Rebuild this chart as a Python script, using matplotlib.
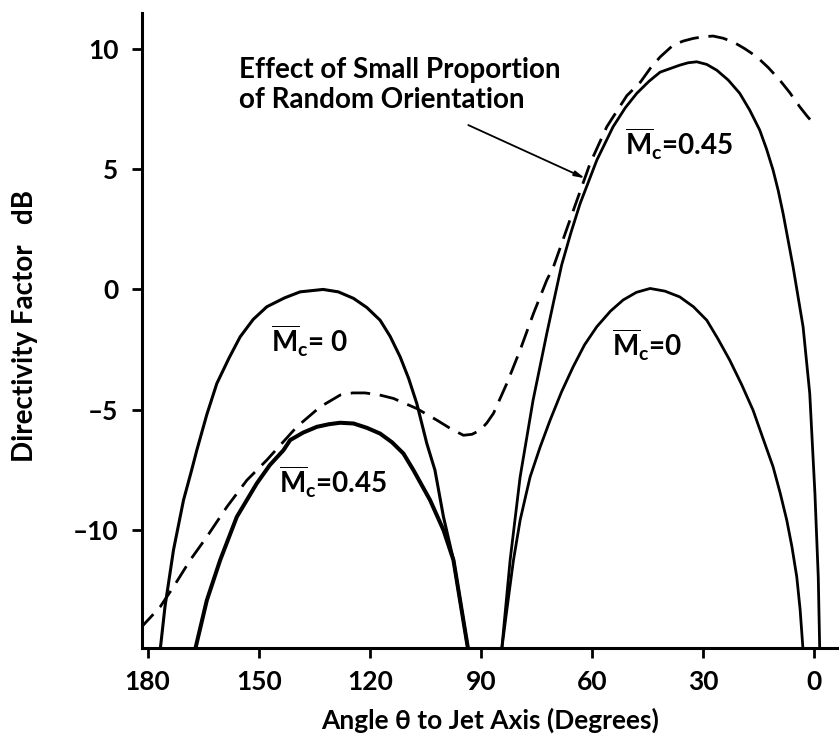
import matplotlib
matplotlib.use("Agg")
import matplotlib.pyplot as plt

plt.rcParams['font.family'] = ['Lato', 'DejaVu Sans']
plt.rcParams['font.weight'] = 'bold'
plt.rcParams['axes.labelweight'] = 'bold'
plt.rcParams['mathtext.fontset'] = 'custom'
plt.rcParams['mathtext.rm'] = 'Lato:bold'
plt.rcParams['mathtext.it'] = 'Lato:bold'

# directivity curves, angle in degrees from jet axis vs dB
# left lobe, Mc = 0
ang_l0 = [176.6, 175.3, 173.0, 170.3, 168.1, 166.7, 164.0, 161.3, 158.0, 155.0, 151.5,
          147.8, 143.0, 138.8, 132.6, 128.5, 124.4, 120.8, 117.2, 114.5, 111.8, 109.5,
          107.3, 104.6, 102.4, 100.1, 97.4, 93.4]
db_l0 = [-15.0, -13.19, -10.83, -8.76, -7.51, -6.68, -5.20, -3.91, -2.85, -1.97, -1.25,
         -0.72, -0.35, -0.10, 0.0, -0.10, -0.37, -0.75, -1.28, -1.95, -2.80, -3.70,
         -4.74, -6.40, -7.51, -9.45, -11.25, -15.0]

# left lobe, Mc = 0.45
ang_l45 = [167.2, 164.0, 160.4, 155.9, 150.5, 147.0, 143.3, 141.5, 138.0, 134.3, 131.0,
           128.0, 124.4, 120.8, 117.2, 114.0, 110.9, 108.2, 103.7, 100.1, 97.4, 93.4]
db_l45 = [-15.0, -12.92, -11.25, -9.45, -8.06, -7.30, -6.68, -6.26, -5.95, -5.71, -5.60,
          -5.54, -5.57, -5.75, -5.99, -6.35, -6.82, -7.51, -8.76, -10.00, -11.25, -15.0]

# right lobe, Mc = 0
ang_r0 = [84.4, 83.0, 81.2, 79.4, 78.0, 76.7, 74.0, 71.3, 68.2, 65.1, 62.0, 58.7, 55.0,
          51.6, 48.0, 44.3, 40.3, 36.3, 32.6, 29.0, 26.0, 22.8, 19.6, 16.5, 13.8, 11.1,
          9.2, 7.4, 6.0, 4.7, 3.8, 3.0]
db_r0 = [-15.0, -13.33, -11.25, -9.59, -8.65, -7.79, -6.55, -5.43, -4.25, -3.22, -2.30,
         -1.55, -0.90, -0.44, -0.12, 0.04, -0.07, -0.31, -0.72, -1.28, -2.05, -2.94,
         -3.95, -5.02, -6.20, -7.37, -8.45, -9.59, -10.70, -11.95, -13.30, -15.0]

# right lobe, Mc = 0.45
ang_r45 = [84.4, 82.1, 79.4, 75.9, 72.2, 70.2, 68.2, 65.7, 63.2, 58.7, 54.3, 51.0, 47.9,
           44.6, 41.6, 36.3, 34.0, 31.7, 29.0, 26.3, 23.2, 20.1, 17.4, 14.7, 12.9, 11.1,
           9.7, 8.4, 5.7, 3.0, 1.2, -0.2, -1.1, -1.5]
db_r45 = [-15.0, -11.25, -7.79, -4.60, -1.83, -0.40, 1.01, 2.35, 3.57, 5.37, 6.76, 7.55,
          8.15, 8.65, 9.03, 9.32, 9.42, 9.46, 9.35, 9.11, 8.70, 8.15, 7.45, 6.62, 5.85,
          4.96, 4.10, 3.16, 0.94, -1.55, -4.32, -8.48, -11.95, -15.0]

# with a small proportion of random orientation
ang_rand = [182.0, 176.6, 173.0, 168.5, 164.0, 158.6, 153.2, 147.8, 139.7, 133.4, 128.0,
            124.6, 121.3, 117.5, 113.6, 107.3, 101.9, 98.0, 94.7, 92.4, 90.2, 88.4, 86.6,
            83.0, 79.4, 75.8, 72.2, 70.4, 65.0, 60.5, 56.0, 50.6, 46.9, 44.2, 41.6, 38.1,
            35.4, 32.7, 30.0, 27.3, 24.6, 21.9, 18.7, 15.5, 12.4, 9.3, 6.6, 3.9, 1.9, -0.2]
db_rand = [-14.09, -13.19, -12.36, -11.25, -10.28, -9.04, -7.93, -7.09, -5.71, -4.88, -4.39,
           -4.30, -4.30, -4.38, -4.53, -4.95, -5.43, -5.80, -6.06, -6.02, -5.85, -5.55, -5.15,
           -3.91, -2.52, -1.00, 0.39, 0.94, 3.30, 5.24, 6.76, 8.05, 8.62, 9.20, 9.66, 10.15,
           10.32, 10.43, 10.50, 10.53, 10.44, 10.29, 10.00, 9.67, 9.22, 8.70, 8.18, 7.59,
           7.20, 6.83]

xticks = [180, 150, 120, 90, 60, 30, 0]
yticks = [-10, -5, 0, 5, 10]

fig = plt.figure(figsize=(8.39, 7.40), dpi=100)
ax = fig.add_axes([142/839, 1 - 648/740, 1 - 142/839, (648 - 12.7)/740])

ax.plot(ang_l0, db_l0, color='black', lw=2.2)
ax.plot(ang_l45, db_l45, color='black', lw=2.9)
ax.plot(ang_r0, db_r0, color='black', lw=2.0)
ax.plot(ang_r45, db_r45, color='black', lw=2.0)
ax.plot(ang_rand, db_rand, color='black', lw=2.0, dashes=(7, 3.5))

ax.set_xlim(181.5, -6.7)
ax.set_ylim(-14.9, 11.5)
ax.set_xticks(xticks)
ax.set_yticks(yticks)
ax.set_yticklabels([str(v) if v >= 0 else '\u2013' + str(-v) for v in yticks])

for s in ['top', 'right']:
    ax.spines[s].set_visible(False)
for s in ['left', 'bottom']:
    ax.spines[s].set_linewidth(2.2)
ax.tick_params(axis='both', direction='out', length=7, width=2, labelsize=19)
ax.tick_params(axis='y', pad=10)
ax.tick_params(axis='x', pad=9)

ax.set_xlabel('Angle \u03b8 to Jet Axis (Degrees)', fontsize=19, labelpad=10)
fig.text(25/839, 1 - 326/740, 'Directivity Factor   dB', rotation=90,
         fontsize=20, ha='center', va='center')

# curve labels
lab = r'$\overline{\mathrm{M}}_{\mathrm{c}}$'
ax.text(146.7, -2.64, lab + '= 0', fontsize=20, ha='left', va='baseline')
ax.text(144.4, -8.48, lab + '=0.45', fontsize=20, ha='left', va='baseline')
ax.text(51.1, 5.58, lab + '=0.45', fontsize=20, ha='left', va='baseline')
ax.text(54.7, -2.80, lab + '=0', fontsize=20, ha='left', va='baseline')

ax.text(155.3, 8.5, 'Effect of Small Proportion\nof Random Orientation',
        fontsize=20, ha='left', va='center', linespacing=1.2)
ax.annotate('', xy=(61.9, 4.62), xytext=(93.4, 6.83),
            arrowprops=dict(arrowstyle='-|>,head_length=0.6,head_width=0.15',
                            color='black', lw=1.3, shrinkA=0, shrinkB=0))

fig.savefig('out.png', dpi=100)
